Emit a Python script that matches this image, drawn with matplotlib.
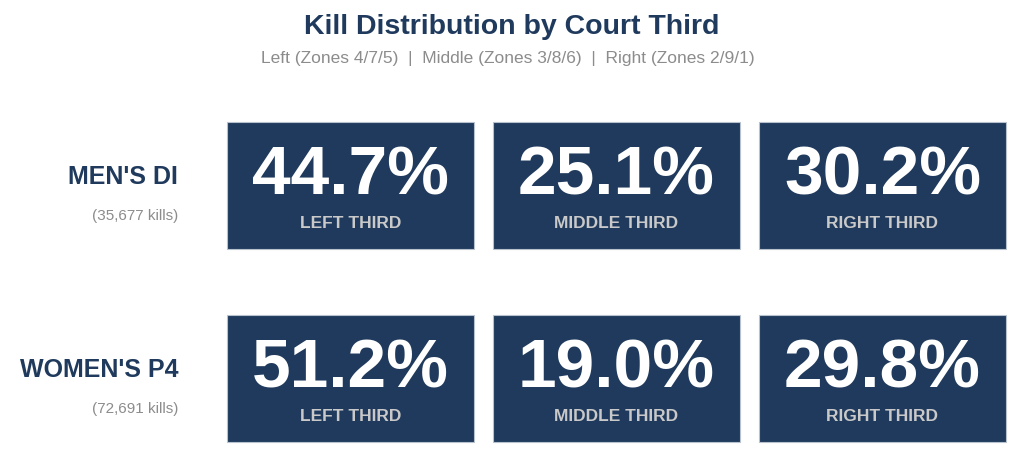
"""Kill distribution by court third, shown as stat tiles."""

import matplotlib.pyplot as plt
from matplotlib.patches import Rectangle

plt.rcParams["font.family"] = ["Liberation Sans", "DejaVu Sans"]

# Data
groups = ["MEN'S DI", "WOMEN'S P4"]
kills = [35677, 72691]
thirds = ["LEFT THIRD", "MIDDLE THIRD", "RIGHT THIRD"]
men_pct = [44.7, 25.1, 30.2]
women_pct = [51.2, 19.0, 29.8]
pct_rows = [men_pct, women_pct]

navy = "#1f3a5c"
label_grey = "#c9c9c9"
sub_grey = "#8c8c8c"

# Tile layout in pixels
box_left = [227, 493, 759]
box_w = 247
row_top = [123, 316]
box_h = 127

fig = plt.figure(figsize=(10.24, 4.6), dpi=100)
ax = fig.add_axes([0, 0, 1, 1])
ax.set_xlim(0, 1024)
ax.set_ylim(460, 0)
ax.axis("off")

ax.text(512, 27, "Kill Distribution by Court Third", ha="center", va="center",
        fontsize=20.5, fontweight="bold", color=navy)
ax.text(508, 58, "Left (Zones 4/7/5)  |  Middle (Zones 3/8/6)  |  Right (Zones 2/9/1)",
        ha="center", va="center", fontsize=12.5, color=sub_grey)

for r, group in enumerate(groups):
    top = row_top[r]
    ax.text(178, top + 54, group, ha="right", va="center",
            fontsize=18, fontweight="bold", color=navy)
    ax.text(178, top + 93, f"({kills[r]:,} kills)", ha="right", va="center",
            fontsize=11, color=sub_grey)

    for c, third in enumerate(thirds):
        left = box_left[c]
        ax.add_patch(Rectangle((left, top), box_w, box_h, facecolor=navy,
                               edgecolor="#b8c2cf", linewidth=0.8))
        cx = left + box_w / 2
        ax.text(cx, top + 54, f"{pct_rows[r][c]:.1f}%", ha="center", va="center",
                fontsize=50, fontweight="bold", color="white")
        ax.text(cx, top + 101, third, ha="center", va="center",
                fontsize=12.5, fontweight="bold", color=label_grey)

fig.savefig("out.png", dpi=100, facecolor="white")
